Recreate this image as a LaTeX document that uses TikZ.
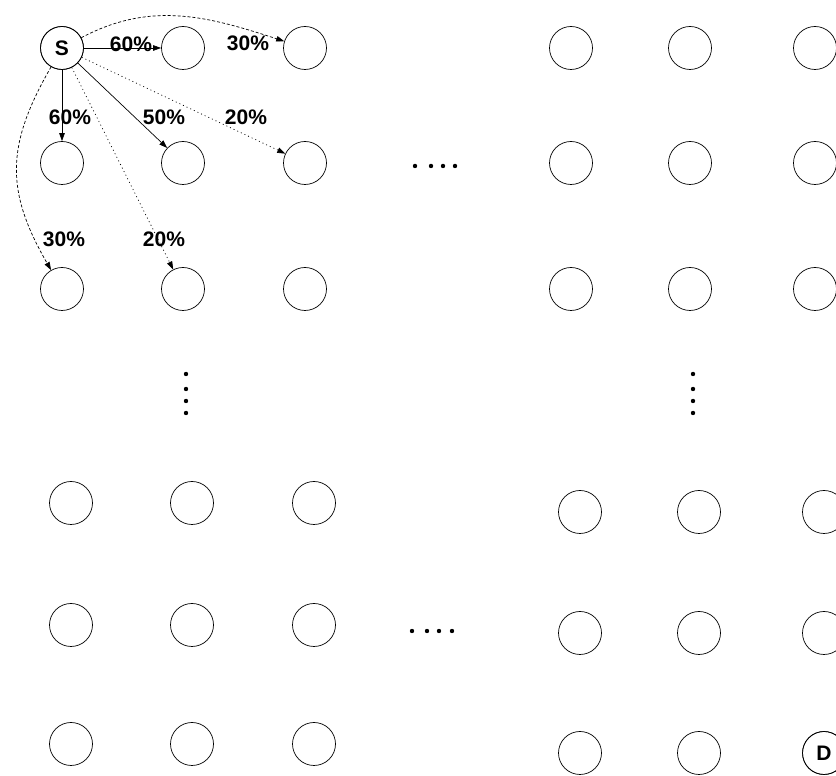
\documentclass[tikz,border=0pt]{standalone}
\usepackage{fontspec}
\setmainfont{Liberation Sans}
\usetikzlibrary{arrows.meta}
\tikzset{
  >={Triangle[length=8pt,width=5.5pt]},
  cell/.style={draw,circle,minimum size=43pt,inner sep=0pt,line width=0.7pt,font=\fontsize{21}{21}\selectfont\bfseries},
  pct/.style={font=\fontsize{21}{21}\selectfont\bfseries,inner sep=0pt},
  arr/.style={->,line width=0.7pt},
  darr/.style={->,line width=0.7pt,dash pattern=on 3pt off 2pt},
  parr/.style={->,line width=0.7pt,dash pattern=on 1pt off 3pt},
  dot/.style={fill=black},
}
\begin{document}
\begin{tikzpicture}[x=1pt,y=1pt]
\useasboundingbox (0,0) rectangle (836,776);
\clip (0,0) rectangle (836,776);
% four corners of the grid
\foreach \blk/\xs/\ys in {a/{62,183,305}/{728,613,487},b/{571,690,815}/{728,613,487},
                          c/{71,192,314}/{273,151,32},d/{580,699,824}/{264,143,23}}{
  \foreach \x [count=\c] in \xs {
    \foreach \y [count=\r] in \ys {
      \node[cell] (\blk\r\c) at (\x,\y) {};
    }
  }
}
\node[cell] at (a11) {S};
\node[cell] at (d33) {D};
% dots
\foreach \x in {415,431,443,455} \fill[dot] (\x,610) circle (2.2);
\foreach \x in {412,427,439,452} \fill[dot] (\x,145) circle (2.2);
\foreach \y in {402,387,375,363} {\fill[dot] (186,\y) circle (2.2); \fill[dot] (693,\y) circle (2.2);}
% moves from S
\draw[arr] (a11) -- (a12);
\draw[arr] (a11) -- (a21);
\draw[arr] (a11) -- (a22);
\draw[parr] (a11) -- (a23);
\draw[parr] (a11) -- (a32);
\draw[darr] (a11) to[out=28,in=162,looseness=1] (a13);
\draw[darr] (a11) to[out=240,in=120,looseness=1.15] (a31);
\node[pct] (p12) at (131,732) {60\%};
\node[pct] (p13) at (248,733) {30\%};
\node[pct] (p21) at (70,659) {60\%};
\node[pct] (p22) at (164,659) {50\%};
\node[pct] (p23) at (246,659) {20\%};
\node[pct] (p31) at (64,537) {30\%};
\node[pct] (p32) at (164,537) {20\%};
\end{tikzpicture}
\end{document}
